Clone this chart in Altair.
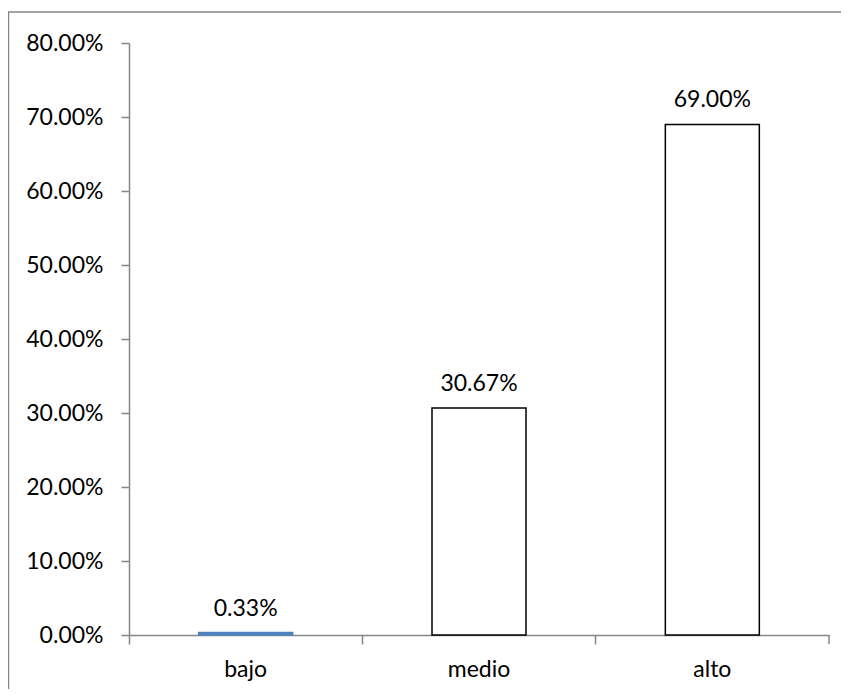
import altair as alt
import pandas as pd

categories = ["bajo", "medio", "alto"]
values = [0.0033, 0.3067, 0.69]
y_ticks = [0.0, 0.1, 0.2, 0.3, 0.4, 0.5, 0.6, 0.7, 0.8]
fill_colors = ["#4F81BD", "#FFFFFF", "#FFFFFF"]
stroke_colors = ["#4F81BD", "#000000", "#000000"]

df = pd.DataFrame({"nivel": categories, "pct": values})

FONT = "Lato"
FS = 23
AXIS = "#868686"

x_enc = alt.X(
    "nivel:N", sort=categories, title=None,
    scale=alt.Scale(paddingInner=0, paddingOuter=0),
    axis=alt.Axis(labelAngle=0, bandPosition=0, tickSize=9, labelPadding=14,
                  domainColor=AXIS, tickColor=AXIS, domainWidth=1.5, tickWidth=1.5,
                  labelFont=FONT, labelFontSize=FS, labelColor="#000000"),
)
y_enc = alt.Y(
    "pct:Q", title=None,
    scale=alt.Scale(domain=[0, 0.8], nice=False),
    axis=alt.Axis(format=".2%", values=y_ticks, tickSize=8, labelPadding=18, grid=False,
                  domainColor=AXIS, tickColor=AXIS, domainWidth=1.5, tickWidth=1.5,
                  labelFont=FONT, labelFontSize=FS, labelColor="#000000"),
)

bars = alt.Chart(df).mark_bar(size=94, strokeWidth=1.5).encode(
    x=x_enc, y=y_enc,
    fill=alt.Fill("nivel:N", scale=alt.Scale(domain=categories, range=fill_colors), legend=None),
    stroke=alt.Stroke("nivel:N", scale=alt.Scale(domain=categories, range=stroke_colors), legend=None),
)

labels = alt.Chart(df).mark_text(dy=-17, baseline="alphabetic", font=FONT, fontSize=FS, color="#000000").encode(
    x=alt.X("nivel:N", sort=categories),
    y=alt.Y("pct:Q"),
    text=alt.Text("pct:Q", format=".2%"),
)

one = pd.DataFrame({"a": [0]})
end_tick = alt.Chart(one).mark_rule(color=AXIS, strokeWidth=1.5).encode(
    x=alt.value(700), y=alt.value(592), y2=alt.value(601)
)
frame = alt.Chart(one).mark_rect(fillOpacity=0, stroke=AXIS, strokeWidth=1.5).encode(
    x=alt.value(-120.5), x2=alt.value(760), y=alt.value(-31), y2=alt.value(720)
)

chart = alt.layer(frame, bars, labels, end_tick).properties(
    width=700, height=592,
    padding={"left": 121, "top": 35, "right": 12, "bottom": 54},
    autosize=alt.AutoSizeParams(type="none"),
    background="#FFFFFF",
).configure_view(strokeWidth=0)

chart.save("out.html", embed_options={"renderer": "svg", "actions": False})
